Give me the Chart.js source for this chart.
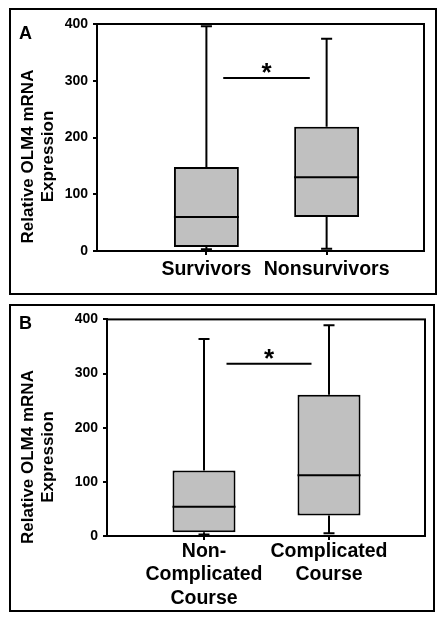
<!DOCTYPE html>
<html>
<head>
<meta charset="utf-8">
<script src="https://cdn.jsdelivr.net/npm/chart.js@4.4.1/dist/chart.umd.min.js"></script>
<style>
  body { margin: 0; background: #fff; width: 445px; height: 622px; position: relative; font-family: 'Liberation Sans', Arial, sans-serif; }
  .panel { position: absolute; border: 2px solid #000; }
  .panel canvas { position: absolute; left: 0; top: 0; }
  #panelA { left: 9px; top: 8px; width: 424px; height: 283px; }
  #panelB { left: 9px; top: 304px; width: 422px; height: 304px; }
  .letter { position: absolute; left: 8px; font: bold 18px 'Liberation Sans', Arial, sans-serif; line-height: 1; color: #000; }
</style>
</head>
<body>
<div class="panel" id="panelA">
  <canvas id="chartA" width="424" height="283"></canvas>
  <div class="letter" style="top:14px">A</div>
</div>
<div class="panel" id="panelB">
  <canvas id="chartB" width="422" height="304"></canvas>
  <div class="letter" style="top:8px">B</div>
</div>
<script>
// panel A: survivors vs nonsurvivors
const labelsA = ['Survivors', 'Nonsurvivors'];
const lowA = [3, 4];
const q1A = [7, 60];
const medA = [60, 130];
const q3A = [148, 219];
const highA = [396, 374];
const sigA = [1.14, 1.86, 305]; // from, to, height

// panel B: non-complicated vs complicated course
const labelsB = [['Non-', 'Complicated', 'Course'], ['Complicated', 'Course']];
const lowB = [3, 5];
const q1B = [7, 38];
const medB = [54, 112];
const q3B = [121, 261];
const highB = [364, 389];
const sigB = [1.18, 1.86, 318];

const yTitle = ['Relative OLM4 mRNA', 'Expression'];
const yMin = 0, yMax = 400, yStep = 100;

const FONT = "'Liberation Sans', Arial, sans-serif";

// black whiskers, caps, medians and the significance bar, split by gaps
const buildLines = (low, q1, med, q3, high, sig, half, cap) => {
  const pts = [];
  const gap = (x) => pts.push({x: x, y: null});
  low.forEach((v, i) => {
    const x = i + 1;
    pts.push({x: x, y: q3[i]}, {x: x, y: high[i]}); gap(x);
    pts.push({x: x - cap, y: high[i]}, {x: x + cap, y: high[i]}); gap(x);
    pts.push({x: x, y: low[i]}, {x: x, y: q1[i]}); gap(x);
    pts.push({x: x - cap, y: low[i]}, {x: x + cap, y: low[i]}); gap(x);
    pts.push({x: x - half, y: med[i]}, {x: x + half, y: med[i]}); gap(x);
  });
  pts.push({x: sig[0], y: sig[2]}, {x: sig[1], y: sig[2]});
  return pts;
};

const framePlugin = {
  id: 'frame',
  afterDraw(chart) {
    const a = chart.chartArea, c = chart.ctx;
    c.save();
    c.strokeStyle = '#000';
    c.lineWidth = 2;
    c.strokeRect(a.left, a.top, a.right - a.left, a.bottom - a.top);
    c.restore();
  }
};

const textPlugin = {
  id: 'extraText',
  afterDraw(chart, args, opts) {
    const c = chart.ctx;
    c.save();
    c.fillStyle = '#000';
    // rotated y title
    c.font = 'bold 17px ' + FONT;
    c.translate(opts.titleX, opts.titleY);
    c.rotate(-Math.PI / 2);
    c.textAlign = 'center';
    c.textBaseline = 'alphabetic';
    opts.lines.forEach((t, i) => c.fillText(t, 0, i * opts.lineGap));
    c.restore();
    // asterisk over the significance bar
    const sx = chart.scales.x, sy = chart.scales.y;
    c.save();
    c.fillStyle = '#000';
    c.font = 'bold 26px ' + FONT;
    c.textAlign = 'center';
    c.textBaseline = 'alphabetic';
    c.fillText('*', sx.getPixelForValue((opts.sig[0] + opts.sig[1]) / 2), sy.getPixelForValue(opts.sig[2]) + 3);
    c.restore();
  }
};

const makePanel = (id, p) => {
  const boxes = p.labels.map((l, i) => ({x: i + 1, y: [p.q1[i], p.q3[i]]}));
  return new Chart(document.getElementById(id), {
    type: 'bar',
    data: {
      datasets: [{
        type: 'line',
        data: buildLines(p.low, p.q1, p.med, p.q3, p.high, p.sig, p.half, p.cap),
        borderColor: '#000',
        borderWidth: 2,
        pointRadius: 0,
        fill: false,
        tension: 0,
        spanGaps: false,
        order: 1
      }, {
        type: 'bar',
        data: boxes,
        backgroundColor: '#c0c0c0',
        borderColor: '#000',
        borderWidth: 2,
        borderSkipped: false,
        barPercentage: 1,
        categoryPercentage: p.half * 2,
        order: 2
      }]
    },
    options: {
      responsive: false,
      animation: false,
      layout: { padding: p.padding },
      plugins: {
        legend: { display: false },
        tooltip: { enabled: false },
        extraText: { lines: yTitle, titleX: 22, titleY: p.titleY, lineGap: 19.5, sig: p.sig }
      },
      scales: {
        x: {
          type: 'linear',
          min: p.xMin,
          max: p.xMax,
          offset: false,
          afterBuildTicks: (s) => { s.ticks = p.labels.map((l, i) => ({value: i + 1})); },
          afterFit: (s) => { s.height = p.xHeight; },
          grid: { display: true, drawOnChartArea: false, drawTicks: true, tickLength: 4, color: '#000', lineWidth: 2, offset: false },
          border: { display: true, color: '#000', width: 2 },
          ticks: {
            autoSkip: false,
            maxRotation: 0,
            padding: p.xPad,
            color: '#000',
            font: { family: FONT, size: 19.5, weight: 'bold', lineHeight: 1.2 },
            callback: (v) => p.labels[v - 1]
          }
        },
        y: {
          min: yMin,
          max: yMax,
          afterFit: (s) => { s.width = p.yWidth; },
          grid: { display: true, drawOnChartArea: false, drawTicks: true, tickLength: 4, color: '#000', lineWidth: 2 },
          border: { display: true, color: '#000', width: 2 },
          ticks: {
            stepSize: yStep,
            padding: 5,
            color: '#000',
            font: { family: FONT, size: 14, weight: 'bold' }
          }
        }
      }
    },
    plugins: [framePlugin, textPlugin]
  });
};

makePanel('chartA', {
  labels: labelsA, low: lowA, q1: q1A, med: medA, q3: q3A, high: highA, sig: sigA,
  half: 0.27, cap: 0.046, xMin: 0.09, xMax: 2.81,
  padding: { top: 14, right: 11, bottom: 0, left: 0 },
  yWidth: 86, xHeight: 42, xPad: 3, titleY: 146.5
});

makePanel('chartB', {
  labels: labelsB, low: lowB, q1: q1B, med: medB, q3: q3B, high: highB, sig: sigB,
  half: 0.252, cap: 0.044, xMin: 0.224, xMax: 2.768,
  padding: { top: 9, right: 8, bottom: 0, left: 0 },
  yWidth: 96, xHeight: 74, xPad: 0, titleY: 151
});
</script>
</body>
</html>
